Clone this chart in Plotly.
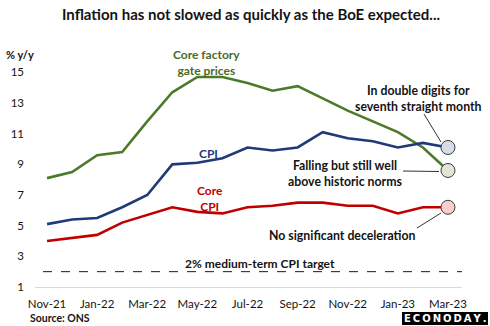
import plotly.graph_objects as go

# Monthly readings, % y/y
months = ["Nov-21", "Dec-21", "Jan-22", "Feb-22", "Mar-22", "Apr-22", "May-22", "Jun-22",
          "Jul-22", "Aug-22", "Sep-22", "Oct-22", "Nov-22", "Dec-22", "Jan-23", "Feb-23", "Mar-23"]
factory_gate = [8.1, 8.5, 9.6, 9.8, 11.8, 13.7, 14.7, 14.7, 14.3, 13.8, 14.1, 13.3, 12.5, 11.8, 11.1, 10.1, 8.6]
cpi = [5.1, 5.4, 5.5, 6.2, 7.0, 9.0, 9.1, 9.4, 10.1, 9.9, 10.1, 11.1, 10.7, 10.5, 10.1, 10.4, 10.1]
core_cpi = [4.0, 4.2, 4.4, 5.2, 5.7, 6.2, 5.9, 5.8, 6.2, 6.3, 6.5, 6.5, 6.3, 6.3, 5.8, 6.2, 6.2]
cpi_target = 2.0
y_ticks = [1, 3, 5, 7, 9, 11, 13, 15]
x_tick_labels = months[::2]

W, H = 490, 326
ML, MR, MT, MB = 35, 28, 57, 39
PW, PH = W - ML - MR, H - MT - MB

GREEN = "#4d7a2a"
BLUE = "#1f3a78"
RED = "#c00000"
TXT = "#141414"
FONT = "Lato"

idx = list(range(len(months)))


def px(x):
    return (x - ML) / PW


def py(y):
    return (H - MB - y) / PH


fig = go.Figure()
for vals, col in [(factory_gate, GREEN), (cpi, BLUE), (core_cpi, RED)]:
    fig.add_trace(go.Scatter(x=idx, y=vals, mode="lines",
                             line=dict(color=col, width=2.6), hoverinfo="skip"))

# Highlight the latest reading of each series
last = idx[-1]
for vals, fill in [(cpi, "#d5dbe8"), (factory_gate, "#dfe6d5"), (core_cpi, "#f5d0d0")]:
    fig.add_trace(go.Scatter(x=[last], y=[vals[-1]], mode="markers",
                             marker=dict(size=14, color=fill, line=dict(color="#3a3a3a", width=1)),
                             hoverinfo="skip"))

shapes = [
    # inflation target
    dict(type="line", xref="paper", yref="y", x0=px(43), x1=1.0, y0=cpi_target, y1=cpi_target,
         line=dict(color="#1a1a1a", width=1, dash="dash")),
    # callout connectors
    dict(type="line", xref="paper", yref="paper", x0=px(424), y0=py(114), x1=px(441), y1=py(142),
         line=dict(color="#333333", width=1)),
    dict(type="line", xref="paper", yref="paper", x0=px(403), y0=py(171), x1=px(439), y1=py(171.5),
         line=dict(color="#333333", width=1)),
    dict(type="line", xref="paper", yref="paper", x0=px(417), y0=py(228), x1=px(441), y1=py(213),
         line=dict(color="#333333", width=1)),
    # logo box
    dict(type="rect", xref="paper", yref="paper", x0=px(402), x1=px(488), y0=py(325), y1=py(312),
         fillcolor="#000000", line=dict(width=0)),
]


def label(text, x, y, color=TXT, size=12, xanchor="center", family=FONT):
    return dict(text=text, xref="paper", yref="paper", x=px(x), y=py(y), showarrow=False,
                xanchor=xanchor, yanchor="middle", font=dict(family=family, size=size, color=color))


logo = "\u2009".join("ECONODAY.")

annotations = [
    label("<b>Inflation has not slowed as quickly as the BoE expected...</b>", 251, 14, size=15),
    label("<b>% y/y</b>", 4, 54, size=11, xanchor="left"),
    label("<b>Core factory<br>gate prices</b>", 206, 62, color="#4a6b28", size=12),
    label("<b>CPI</b>", 208, 153, color=BLUE, size=12),
    label("<b>Core<br>CPI</b>", 210, 198, color=RED, size=12),
    label("<b>In double digits for<br>seventh straight month</b>", 418, 98, size=12.3),
    label("<b>Falling but still well<br>above historic norms</b>", 345, 173, size=12.3),
    label("<b>No significant deceleration</b>", 342, 235, size=12.3),
    label("<b>2% medium-term CPI target</b>", 260, 263, size=12),
    label("<b>Source: ONS</b>", 28, 318, size=10.5, xanchor="left"),
    label("<b>" + logo + "</b>", 445, 318.5, color="#ffffff", size=10, family="DejaVu Sans"),
]

fig.update_layout(
    width=W, height=H, margin=dict(l=ML, r=MR, t=MT, b=MB),
    paper_bgcolor="white", plot_bgcolor="white", showlegend=False,
    shapes=shapes, annotations=annotations,
    xaxis=dict(range=[-0.48, 16.56], tickmode="array", tickvals=idx[::2], ticktext=x_tick_labels,
               showgrid=False, zeroline=False, showline=True, linecolor="#d9d9d9", linewidth=1,
               ticks="", tickfont=dict(family=FONT, size=11.5, color=TXT), ticklabelstandoff=6),
    yaxis=dict(range=[1, 16], tickmode="array", tickvals=y_ticks, showgrid=False, zeroline=False,
               showline=False, ticks="", tickfont=dict(family=FONT, size=11.5, color=TXT),
               ticklabelstandoff=10),
)
fig.update_xaxes(tickprefix="<b>", ticksuffix="</b>")
fig.update_yaxes(tickprefix="<b>", ticksuffix="</b>")

fig.write_html("out.html")
